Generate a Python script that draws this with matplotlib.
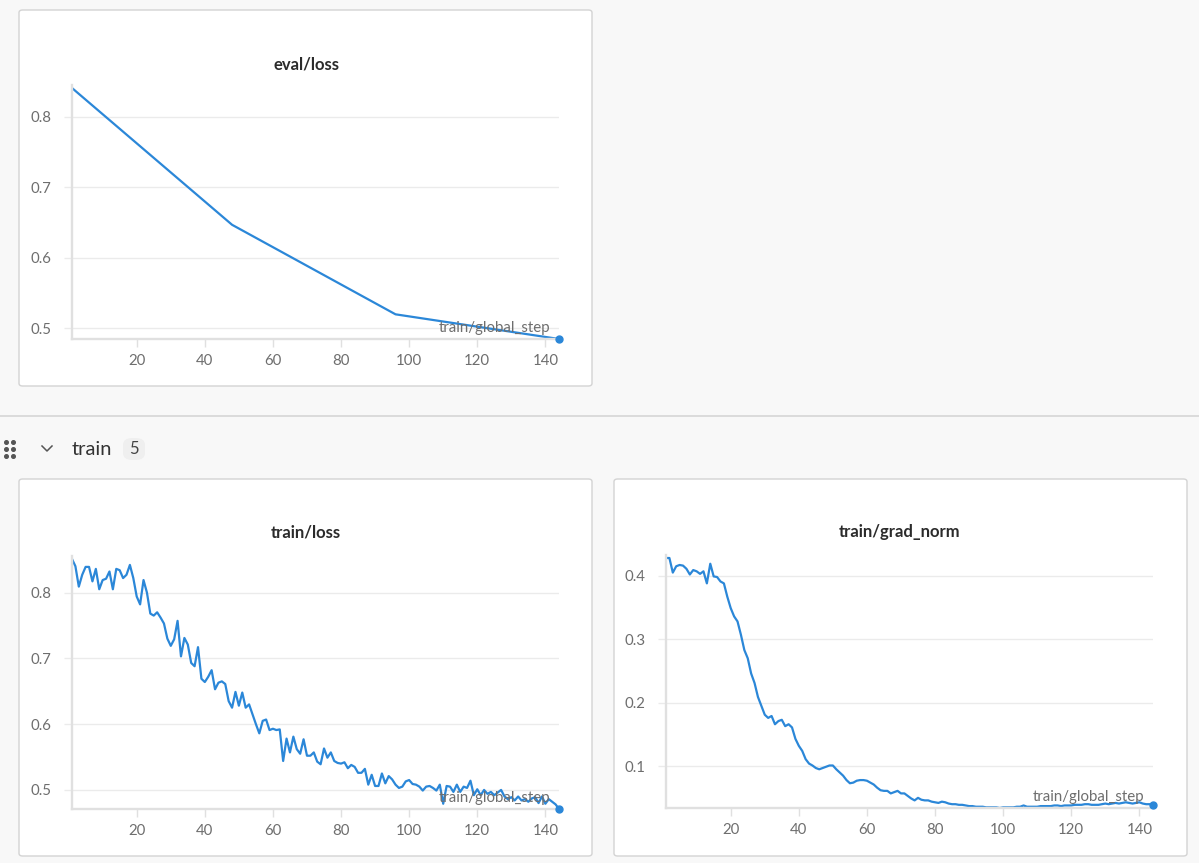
import matplotlib
matplotlib.use("Agg")
import matplotlib.pyplot as plt
from matplotlib.patches import FancyBboxPatch
from matplotlib.lines import Line2D

plt.rcParams["font.family"] = ["Lato", "DejaVu Sans"]

# ---- data ----
eval_steps = [1, 48, 96, 144]
eval_loss = [0.841, 0.647, 0.520, 0.485]

train_loss = [
    0.851, 0.840, 0.809, 0.827, 0.839, 0.839, 0.817, 0.836, 0.805, 0.819,
    0.821, 0.832, 0.805, 0.836, 0.834, 0.822, 0.827, 0.842, 0.822, 0.794,
    0.782, 0.819, 0.800, 0.768, 0.765, 0.770, 0.762, 0.753, 0.730, 0.719,
    0.729, 0.757, 0.703, 0.731, 0.721, 0.693, 0.688, 0.717,
    0.669, 0.664, 0.672, 0.682, 0.653, 0.663, 0.665, 0.661, 0.635, 0.625,
    0.649, 0.628, 0.648, 0.625, 0.630, 0.615, 0.600, 0.586, 0.605, 0.607,
    0.591, 0.593, 0.591, 0.592, 0.544, 0.578, 0.557, 0.581, 0.562, 0.555,
    0.577, 0.552, 0.552, 0.557, 0.543, 0.539, 0.563, 0.549, 0.557, 0.544,
    0.541, 0.540, 0.542, 0.533, 0.538, 0.535, 0.526, 0.526, 0.532, 0.508,
    0.523, 0.506, 0.506, 0.525, 0.510, 0.521, 0.516, 0.508, 0.503, 0.505,
    0.513, 0.515, 0.509, 0.508, 0.505, 0.499, 0.505, 0.506, 0.503, 0.499,
    0.508, 0.479, 0.506, 0.505, 0.497, 0.508, 0.497, 0.505,
    0.503, 0.514, 0.492, 0.501, 0.492, 0.500, 0.494, 0.497, 0.492, 0.496,
    0.500, 0.490, 0.486, 0.489, 0.484, 0.490, 0.484, 0.486, 0.482, 0.487,
    0.489, 0.480, 0.490, 0.479, 0.486, 0.482, 0.478, 0.471,
]

grad_norm = [
    0.428, 0.428, 0.405, 0.415, 0.417, 0.416, 0.411, 0.402, 0.409, 0.407,
    0.403, 0.407, 0.388, 0.419, 0.399, 0.398, 0.391, 0.388, 0.367, 0.349,
    0.336, 0.328, 0.307, 0.283, 0.270, 0.246, 0.231, 0.209,
    0.195, 0.181, 0.176, 0.179, 0.166, 0.171, 0.173, 0.163, 0.166,
    0.161, 0.143, 0.132, 0.124, 0.111, 0.104, 0.101, 0.097, 0.095, 0.097,
    0.099, 0.101, 0.101, 0.095, 0.090, 0.085, 0.078, 0.073, 0.074, 0.077,
    0.078, 0.078, 0.077, 0.074, 0.071, 0.066, 0.062, 0.061, 0.061, 0.057,
    0.059, 0.061, 0.057, 0.057, 0.053, 0.049, 0.046, 0.050, 0.047, 0.046,
    0.046, 0.044, 0.043, 0.042, 0.044, 0.043, 0.041, 0.040, 0.040, 0.039,
    0.039, 0.038, 0.037, 0.037, 0.036, 0.036, 0.036, 0.035, 0.035, 0.035,
    0.035, 0.034, 0.035, 0.035, 0.035, 0.035, 0.036, 0.036, 0.038, 0.036,
    0.036, 0.036, 0.036, 0.037, 0.037, 0.037, 0.037, 0.038, 0.038, 0.037,
    0.038, 0.038, 0.038, 0.039, 0.039, 0.039, 0.040, 0.040, 0.039, 0.039,
    0.039, 0.040, 0.041, 0.040, 0.041, 0.042, 0.041, 0.042, 0.043, 0.042,
    0.041, 0.042, 0.043, 0.041, 0.040, 0.040, 0.039,
]

train_steps = list(range(1, len(train_loss) + 1))
grad_steps = list(range(1, len(grad_norm) + 1))

x_ticks = [20, 40, 60, 80, 100, 120, 140]
loss_ticks = [0.5, 0.6, 0.7, 0.8]
grad_ticks = [0.1, 0.2, 0.3, 0.4]

BLUE = "#2b87d8"
GRID = "#ebebeb"
AXIS = "#e0e0e0"
TXT = "#6e6e6e"

W, H = 1199, 863
fig = plt.figure(figsize=(W / 100, H / 100), dpi=100)
fig.patch.set_facecolor("#f8f8f8")


def fx(x):
    return x / W


def fy(y):
    return 1 - y / H


def panel(x0, y0, x1, y1):
    p = FancyBboxPatch((fx(x0), fy(y1)), (x1 - x0) / W, (y1 - y0) / H,
                       boxstyle="round,pad=0,rounding_size=0.003",
                       transform=fig.transFigure, facecolor="white",
                       edgecolor="#d3d3d3", linewidth=1, zorder=-5)
    fig.add_artist(p)


def chart(rect, xs, ys, yticks, title, title_xy):
    left, top, right, bottom = rect
    ax = fig.add_axes([fx(left), fy(bottom), (right - left) / W, (bottom - top) / H])
    ax.set_facecolor("none")
    ax.plot(xs, ys, color=BLUE, lw=1.6, solid_joinstyle="round")
    ax.plot(xs[-1], ys[-1], "o", color=BLUE, ms=5, clip_on=False, zorder=5)
    lo, hi = min(ys), max(ys)
    ax.set_ylim(lo, hi + 0.012 * (hi - lo))
    ax.set_xlim(xs[0], 144)
    ax.set_xticks(x_ticks)
    ax.set_yticks(yticks)
    ax.set_yticklabels([f"{v:.1f}" for v in yticks])
    ax.grid(axis="y", color=GRID, lw=1)
    ax.set_axisbelow(True)
    for s in ["top", "right"]:
        ax.spines[s].set_visible(False)
    for s in ["left", "bottom"]:
        ax.spines[s].set_color(AXIS)
        ax.spines[s].set_linewidth(1.7)
    ax.tick_params(axis="x", color=AXIS, length=6, width=1, labelcolor=TXT,
                   labelsize=10.8, pad=5)
    ax.tick_params(axis="y", color=GRID, length=6, width=1, labelcolor=TXT,
                   labelsize=10.8, pad=9)
    ax.annotate("train/global_step", xy=(1, 0), xycoords="axes fraction",
                xytext=(-6, 3), textcoords="offset points", ha="right",
                va="bottom", color=TXT, fontsize=10.8)
    fig.text(fx(title_xy[0]), fy(title_xy[1]), title, ha="center", va="center",
             fontsize=12, fontweight="bold", color="#2b2b2b")
    return ax


# panels
panel(19, 10, 592, 386)
panel(19, 479, 592, 856)
panel(614, 479, 1187, 856)

chart((72, 85, 559, 339), eval_steps, eval_loss, loss_ticks, "eval/loss", (306, 64))
chart((72, 556, 559, 809), train_steps, train_loss, loss_ticks, "train/loss", (306, 532))
chart((666, 555, 1153, 808), grad_steps, grad_norm, grad_ticks, "train/grad_norm", (900, 532))

# section header
fig.add_artist(Line2D([0, 1], [fy(416), fy(416)], transform=fig.transFigure,
                      color="#d6d6d6", lw=1.2))
for gx in (6, 13):
    for gy in (442, 449, 456):
        fig.add_artist(Line2D([fx(gx)], [fy(gy)], transform=fig.transFigure,
                              marker="o", ms=2.6, color="#555555", lw=0))
fig.add_artist(Line2D([fx(42), fx(47), fx(52)], [fy(446), fy(451), fy(446)],
                      transform=fig.transFigure, color="#555555", lw=1.1))
fig.text(fx(72), fy(449), "train", ha="left", va="center", fontsize=14.5,
         color="#333333")
fig.add_artist(FancyBboxPatch((fx(123), fy(460)), 22 / W, 22 / H,
                              boxstyle="round,pad=0,rounding_size=0.008",
                              transform=fig.transFigure, facecolor="#efefef",
                              edgecolor="none", zorder=-4))
fig.text(fx(134), fy(449), "5", ha="center", va="center", fontsize=12,
         color="#444444")

fig.savefig("out.png", dpi=100, facecolor=fig.get_facecolor())
